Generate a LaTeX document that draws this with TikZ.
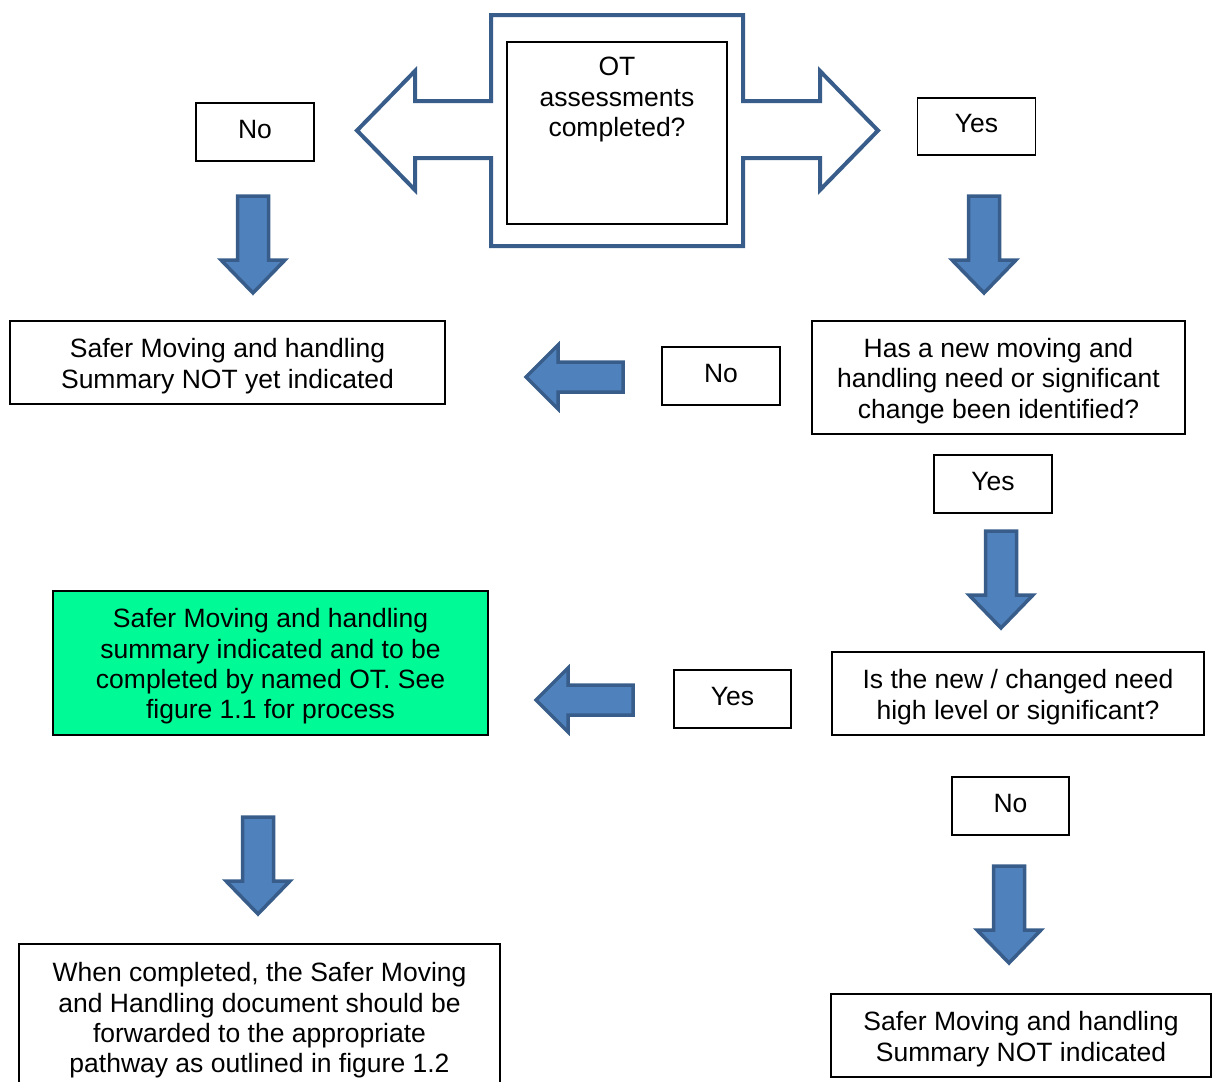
\documentclass[tikz,border=0pt]{standalone}
\usepackage{fontspec}
\setmainfont{Liberation Sans}
\usetikzlibrary{calc}
\definecolor{arrowfill}{RGB}{79,129,189}
\definecolor{arrowline}{RGB}{56,93,138}
\definecolor{notegreen}{RGB}{0,250,150}
\tikzset{
  box/.style={draw, line width=1.3pt, fill=white, align=center, inner sep=0pt},
  say/.style={label={[align=center, inner sep=0pt, yshift=-3.5pt]center:#1}},
  tag/.style={box, minimum width=118pt, minimum height=58pt,
    label={[inner sep=0pt, yshift=2.5pt]center:#1}},
  blockarrow/.style={fill=arrowfill, draw=arrowline, line width=3.5pt, line join=miter}
}
\begin{document}
\begin{tikzpicture}[x=1pt, y=-1pt, font=\fontsize{26.5}{30.4}\selectfont]
\useasboundingbox (0,0) rectangle (1216,1082);
% question shape with the two outline arrows
\draw[arrowline, line width=4pt, fill=white, line join=miter]
(491,15)--(743,15)--(743,101)--(820,101)--(820,71)--(878,130.5)--(820,190)--(820,158)
--(743,158)--(743,246)--(491,246)--(491,158)--(415,158)--(415,190)--(357,130.5)
--(415,71)--(415,101)--(491,101)--cycle;
\node[box, minimum width=220pt, minimum height=182pt] (ot) at (617,133) {};
\node[align=center, inner sep=0pt] (otq) at (617,99.5) {OT\\assessments\\completed?};
% answer boxes
\node[tag=No] (no1) at (255,132) {};
\node[tag=Yes, minimum height=57pt] (yes1) at (976.5,126.5) {};
\node[box, minimum width=435pt, minimum height=83pt,
  say={Safer Moving and handling\\Summary NOT yet indicated}] (notyet) at (227.5,362.5) {};
\node[tag=No] (no2) at (721,376) {};
\node[box, minimum width=373pt, minimum height=113pt,
  say={Has a new moving and\\handling need or significant\\change been identified?}] (newneed) at (998.5,377.5) {};
\node[tag=Yes] (yes2) at (993,484) {};
\node[box, fill=notegreen, minimum width=435pt, minimum height=144pt,
  say={Safer Moving and handling\\summary indicated and to be\\completed by named OT. See\\figure 1.1 for process}] (named) at (270.5,663) {};
\node[tag=Yes, minimum width=117pt] (yes3) at (732.5,699) {};
\node[box, minimum width=372pt, minimum height=83pt,
  say={Is the new / changed need\\high level or significant?}] (highlevel) at (1018,693.5) {};
\node[tag=No, minimum width=117pt] (no3) at (1010.5,806) {};
\node[box, minimum width=481pt, minimum height=146pt,
  say={When completed, the Safer Moving\\and Handling document should be\\forwarded to the appropriate\\pathway as outlined in figure 1.2}] (forward) at (259.5,1017) {};
\node[box, minimum width=380pt, minimum height=83pt,
  say={Safer Moving and handling\\Summary NOT indicated}] (notind) at (1021,1035.5) {};
% block arrows
\foreach \cx/\ty in {253/196, 984/196, 1001/531, 258/817, 1009/866}
  \draw[blockarrow] (\cx-15.5,\ty)--(\cx+15.5,\ty)--(\cx+15.5,\ty+64)--(\cx+32,\ty+64)
  --(\cx,\ty+97)--(\cx-32,\ty+64)--(\cx-15.5,\ty+64)--cycle;
\foreach \tx/\cy in {526/377, 536/700}
  \draw[blockarrow] (\tx+97,\cy-15)--(\tx+97,\cy+15)--(\tx+32,\cy+15)--(\tx+32,\cy+32)
  --(\tx,\cy)--(\tx+32,\cy-32)--(\tx+32,\cy-15)--cycle;
\end{tikzpicture}
\end{document}
